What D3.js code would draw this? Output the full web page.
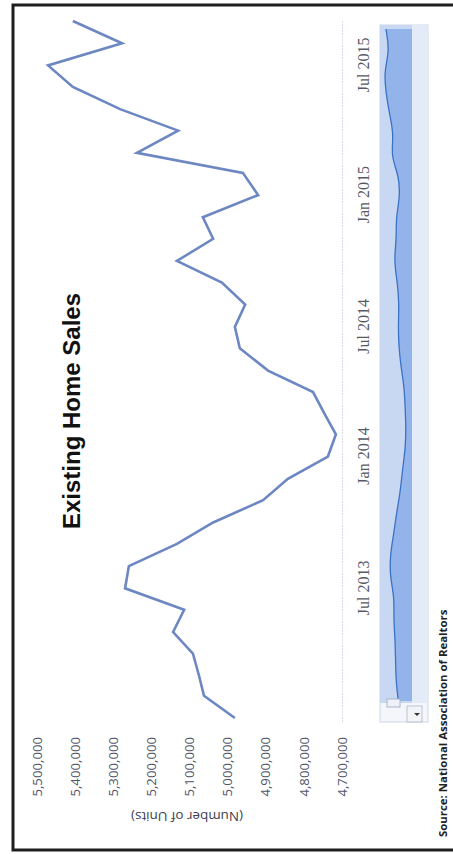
<!DOCTYPE html>
<html>
<head>
<meta charset="utf-8">
<script src="https://cdn.jsdelivr.net/npm/d3@7"></script>
<style>
  html, body { margin: 0; padding: 0; background: #ffffff; }
  svg { display: block; }
</style>
</head>
<body>
<script>
// ---- data ----
const months = ["2013-01","2013-02","2013-03","2013-04","2013-05","2013-06","2013-07","2013-08","2013-09","2013-10","2013-11","2013-12",
                "2014-01","2014-02","2014-03","2014-04","2014-05","2014-06","2014-07","2014-08","2014-09","2014-10","2014-11","2014-12",
                "2015-01","2015-02","2015-03","2015-04","2015-05","2015-06","2015-07","2015-08","2015-09"];
const sales = [4981000, 5062000, 5075000, 5091000, 5143000, 5114000, 5269000, 5259000, 5133000, 5038000, 4907000, 4842000,
               4737000, 4716000, 4745000, 4776000, 4894000, 4968000, 4981000, 4954000, 5015000, 5133000, 5038000, 5065000,
               4920000, 4960000, 5238000, 5130000, 5282000, 5406000, 5471000, 5277000, 5406000];
const valueTicks = [4700000, 4800000, 4900000, 5000000, 5100000, 5200000, 5300000, 5400000, 5500000];
const timeTicks = ["2013-07","2014-01","2014-07","2015-01","2015-07"];
const titleText = "Existing Home Sales";
const axisTitle = "(Number of Units)";
const sourceText = "Source: National Association of Realtors";

// ---- setup ----
const W = 453, H = 854;
const parse = d3.timeParse("%Y-%m");
const data = months.map((m, i) => ({ date: parse(m), value: sales[i] }));

const svg = d3.select("body").append("svg").attr("width", W).attr("height", H);

// frame
svg.append("rect").attr("x", 13).attr("y", 5).attr("width", 446).attr("height", 845)
  .attr("fill", "#fff").attr("stroke", "#1e1e1e").attr("stroke-width", 3);

// The chart is drawn in a landscape frame, then rotated -90deg (as in the scan).
const g = svg.append("g").attr("transform", `translate(0,${H}) rotate(-90)`);

const x = d3.scaleTime().domain([parse("2013-01"), parse("2015-09")]).range([136, 833]);
const y = d3.scaleLinear().domain([4700000, 5500000]).range([342, 37]);

// x axis line (faint)
g.append("line").attr("x1", 132).attr("x2", 833).attr("y1", 342.5).attr("y2", 342.5)
  .attr("stroke", "#d6dbe6").attr("stroke-width", 1).attr("stroke-dasharray", "2,1");

// y axis
const yAxis = g.append("g").attr("transform", "translate(117,0)")
  .call(d3.axisLeft(y).tickValues(valueTicks).tickFormat(d3.format(",")).tickSize(0).tickPadding(0));
yAxis.select(".domain").remove();
yAxis.selectAll("text").attr("font-family", "'Open Sans', sans-serif").attr("font-size", 13.2)
  .attr("fill", "#50566b");

// axis title (upside-down in the picture)
g.append("text").attr("transform", `translate(37,187) rotate(-90)`)
  .attr("text-anchor", "middle").attr("dy", "0.35em")
  .attr("font-family", "'Open Sans', sans-serif").attr("font-size", 13.4).attr("fill", "#3c4050")
  .text(axisTitle);

// x axis
const xAxis = g.append("g").attr("transform", "translate(0,358)")
  .call(d3.axisBottom(x).tickValues(timeTicks.map(parse)).tickFormat(d3.timeFormat("%b %Y")).tickSize(0).tickPadding(0));
xAxis.select(".domain").remove();
xAxis.selectAll("text").attr("font-family", "'Liberation Serif', serif").attr("font-size", 16)
  .attr("fill", "#555a66");

// main line
g.append("path").datum(data)
  .attr("fill", "none").attr("stroke", "#6d87c3").attr("stroke-width", 2.6)
  .attr("stroke-linejoin", "miter")
  .attr("d", d3.line().x(d => x(d.date)).y(d => y(d.value)));

// title
g.append("text").attr("x", 443).attr("y", 80).attr("text-anchor", "middle")
  .attr("font-family", "'Liberation Sans', Arial, sans-serif").attr("font-weight", "bold")
  .attr("font-size", 24).attr("fill", "#111").text(titleText);

// ---- navigator ----
const navTop = 380, navBottom = 412, scrollBottom = 428;
const navX0 = 132, navX1 = 829, selX0 = 151;
const nav = g.append("g");
nav.append("rect").attr("x", navX0).attr("y", navTop).attr("width", navX1 - navX0).attr("height", scrollBottom - navTop)
  .attr("fill", "#f4f6fb").attr("stroke", "#cfd6e4").attr("stroke-width", 1);
nav.append("rect").attr("x", selX0).attr("y", navTop).attr("width", navX1 - selX0).attr("height", navBottom - navTop)
  .attr("fill", "#c9d8f2");
nav.append("rect").attr("x", selX0).attr("y", navBottom).attr("width", navX1 - selX0).attr("height", scrollBottom - navBottom)
  .attr("fill", "#e4ebf8");
const yn = d3.scaleLinear().domain(d3.extent(sales)).range([406, 384]);
const xn = d3.scaleTime().domain(x.domain()).range([selX0 + 2, navX1 - 4]);
nav.append("path").datum(data)
  .attr("fill", "#93b4ea")
  .attr("d", d3.area().curve(d3.curveBasis).x(d => xn(d.date)).y0(navBottom).y1(d => yn(d.value)));
nav.append("path").datum(data)
  .attr("fill", "none").attr("stroke", "#3a72c6").attr("stroke-width", 1.3)
  .attr("d", d3.line().curve(d3.curveBasis).x(d => xn(d.date)).y(d => yn(d.value)));
// handle
nav.append("rect").attr("x", selX0 - 4).attr("y", 387).attr("width", 8).attr("height", 13)
  .attr("fill", "#eef1f8").attr("stroke", "#a9b4cc").attr("stroke-width", 1);
// scrollbar arrow button
nav.append("rect").attr("x", navX0).attr("y", 407).attr("width", 16).attr("height", 15)
  .attr("fill", "#f2f4f8").attr("stroke", "#b9c1d2").attr("stroke-width", 1);
nav.append("path").attr("d", `M${navX0 + 6},${417} l3,-3 l0,6 z`).attr("fill", "#333");

// source
g.append("text").attr("x", 17).attr("y", 447)
  .attr("font-family", "'Open Sans', sans-serif").attr("font-weight", "bold")
  .attr("font-size", 11.4).attr("fill", "#222").text(sourceText);
</script>
</body>
</html>
